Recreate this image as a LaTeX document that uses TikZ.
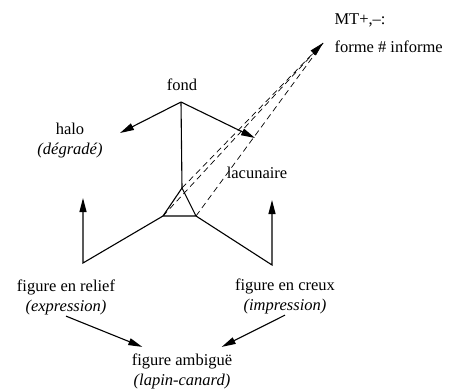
\documentclass[tikz,border=0pt]{standalone}
\usepackage{fontspec}
\setmainfont{Liberation Serif}
\usetikzlibrary{arrows.meta}

\begin{document}
\begin{tikzpicture}[x=1pt,y=-1pt,line width=1.1pt,
  lbl/.style={font=\fontsize{16.5}{20}\selectfont,align=center,inner sep=1pt},
  tip/.style={-{Triangle[length=14pt,width=7pt]}},
  hint/.style={line width=0.7pt,dash pattern=on 6pt off 4pt}]
\useasboundingbox (0,0) rectangle (452,388);

% corners of the frame
\coordinate (top) at (181,102);
\coordinate (tA) at (182,188);
\coordinate (tL) at (163,216);
\coordinate (tR) at (196,216);
\coordinate (cL) at (83,263);
\coordinate (cR) at (272,265);
\coordinate (aL) at (83,198);
\coordinate (aR) at (272,200);
\coordinate (hL) at (120,133);
\coordinate (hR) at (255,138);
\coordinate (mt) at (323,43);

% labels
\node[lbl] (fond) at (182,85) {fond};
\node[lbl] (halo) at (70,141) {halo\\\textit{(dégradé)}};
\node[lbl] (lacun) at (257,173) {lacunaire};
\node[lbl,anchor=west] (mtA) at (333,20) {MT+,--:};
\node[lbl,anchor=west] (mtB) at (333,47) {forme \# informe};
\node[lbl] (relief) at (66,297) {figure en relief\\\textit{(expression)}};
\node[lbl] (creux) at (285,296) {figure en creux\\\textit{(impression)}};
\node[lbl] (ambig) at (182,371) {figure ambiguë\\\textit{(lapin-canard)}};

% frame
\draw[tip] (top) -- (hL);
\draw[tip] (top) -- (hR);
\draw (top) -- (tA);
\draw (tA) -- (tL) -- (tR) -- cycle;
\draw[tip] (tL) -- (cL) -- (aL);
\draw[tip] (tR) -- (cR) -- (aR);

% towards MT
\draw[hint] (tL) -- (mt);
\draw[hint,tip] (tA) -- (mt);
\draw[hint] (tR) -- (mt);

\draw[tip] (relief.south) -- ([xshift=12pt,yshift=5pt]ambig.north west);
\draw[tip] (creux.south) -- ([xshift=-12pt,yshift=5pt]ambig.north east);
\end{tikzpicture}
\end{document}
